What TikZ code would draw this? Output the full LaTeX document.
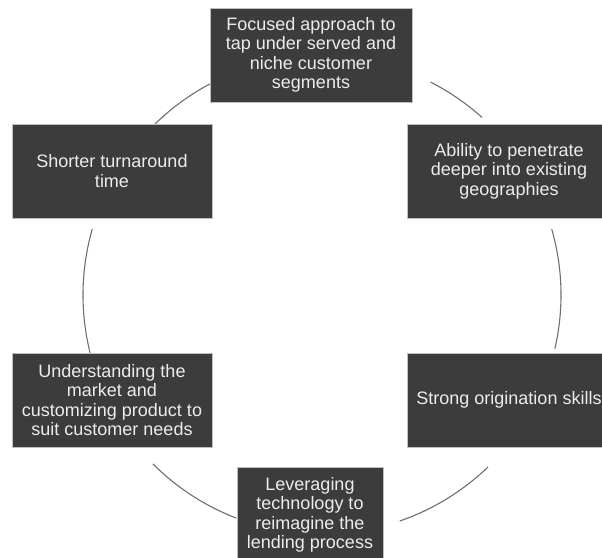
\documentclass[tikz,border=0pt]{standalone}
\usepackage{fontspec}
\setmainfont{Liberation Sans}
\definecolor{boxgray}{RGB}{60,60,60}
\definecolor{txtgray}{RGB}{236,236,236}
\definecolor{arcgray}{RGB}{110,110,110}
\begin{document}
\begin{tikzpicture}[x=1pt,y=1pt,
  card/.style={draw=gray!50,fill=boxgray,text=txtgray,align=center,inner sep=0pt,
    minimum height=94,font=\fontsize{18}{19.5}\selectfont},
  ring/.style={draw=arcgray,line width=1.1pt}]
\useasboundingbox (0,0) rectangle (602,557);
\coordinate (O) at (322,262);

% the cycle behind the boxes
\foreach \a/\b in {118/135, 48/63, -13/16, -71/-46, -135/-111, 164/194}
  \draw[ring] ([shift={(\a:239)}]O) arc (\a:\b:239);

\node (T) at (311,502) [card,minimum width=202] {Focused approach to\\tap under served and\\niche customer\\segments};
\node (R1) at (509,386) [card,minimum width=204] {Ability to penetrate\\deeper into existing\\geographies};
\node (R2) at (509,157) [card,minimum width=204] {Strong origination skills};
\node (B) at (310,42) [card,minimum width=146,minimum height=96] {Leveraging\\technology to\\reimagine the\\lending process};
\node (L2) at (112,157) [card,minimum width=200] {Understanding the\\market and\\customizing product to\\suit customer needs};
\node (L1) at (112,386) [card,minimum width=200] {Shorter turnaround\\time};
\end{tikzpicture}
\end{document}
